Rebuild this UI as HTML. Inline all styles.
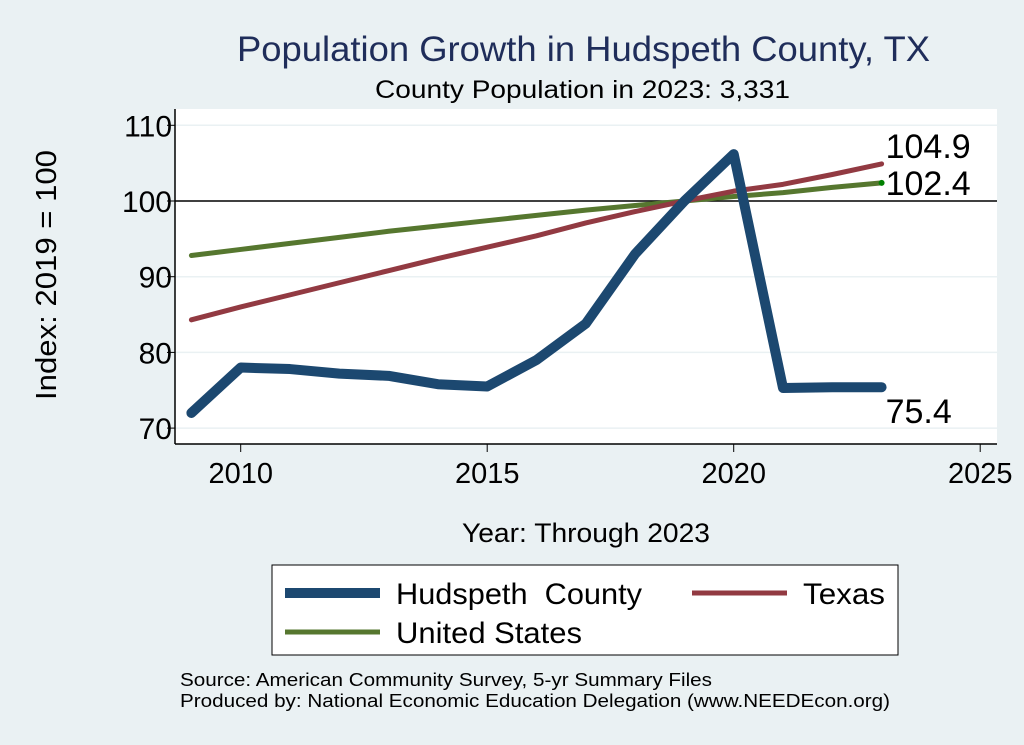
<!DOCTYPE html>
<html><head><meta charset="utf-8"><style>
body{margin:0;background:#eaf1f3;}
svg{display:block;font-family:"Liberation Sans",sans-serif;}
</style></head><body>
<svg width="1024" height="745">
<rect width="1024" height="745" fill="#eaf1f3"/>
<text x="237" y="61" font-size="35" textLength="693" lengthAdjust="spacingAndGlyphs" fill="#1f2d5a">Population Growth in Hudspeth County, TX</text>
<text x="375" y="98" font-size="25" textLength="415" lengthAdjust="spacingAndGlyphs" fill="#000">County Population in 2023: 3,331</text>
<rect x="175" y="109" width="822" height="335" fill="#fff"/>
<g id="grid"></g>
<g id="series"></g>
<g id="axes"></g>
<text transform="translate(56,400) rotate(-90)" font-size="29" textLength="250" lengthAdjust="spacingAndGlyphs">Index: 2019 = 100</text>
<text x="462" y="542" font-size="27" textLength="248" lengthAdjust="spacingAndGlyphs">Year: Through 2023</text>
<g>
<rect x="272" y="565" width="626" height="90" fill="#fff" stroke="#000" stroke-width="1"/>
<line x1="285" y1="593" x2="380" y2="593" stroke="#1c4870" stroke-width="10"/>
<text x="396" y="604" font-size="30" textLength="246" lengthAdjust="spacingAndGlyphs" style="white-space:pre">Hudspeth  County</text>
<line x1="692" y1="593" x2="787" y2="593" stroke="#923a42" stroke-width="5"/>
<text x="803" y="604" font-size="30" textLength="82" lengthAdjust="spacingAndGlyphs">Texas</text>
<line x1="285" y1="632" x2="380" y2="632" stroke="#56772f" stroke-width="5"/>
<text x="396" y="643" font-size="30" textLength="186" lengthAdjust="spacingAndGlyphs">United States</text>
</g>
<text x="180" y="686" font-size="18" textLength="532" lengthAdjust="spacingAndGlyphs">Source: American Community Survey, 5-yr Summary Files</text>
<text x="180" y="707" font-size="18" textLength="710" lengthAdjust="spacingAndGlyphs">Produced by: National Economic Education Delegation (www.NEEDEcon.org)</text>
</svg>
<script>
const years=[2009,2010,2011,2012,2013,2014,2015,2016,2017,2018,2019,2020,2021,2022,2023];
const hudspeth=[72.0,78.0,77.8,77.2,76.9,75.8,75.5,79.0,83.8,93.0,100,106.2,75.3,75.4,75.4];
const texas=[84.3,86.0,87.6,89.2,90.8,92.4,93.9,95.4,97.1,98.6,100,101.3,102.2,103.5,104.9];
const us=[92.8,93.6,94.4,95.2,96.0,96.7,97.4,98.1,98.8,99.4,100,100.6,101.1,101.8,102.4];
const xTicks=[2010,2015,2020,2025];
const yTicks=[70,80,90,100,110];
const NS='http://www.w3.org/2000/svg';
const X=v=>240.7+(v-2010)*49.3;
const Y=v=>201-(v-100)*7.57;
function mk(tag,attrs,parent){const e=document.createElementNS(NS,tag);for(const k in attrs)e.setAttribute(k,attrs[k]);document.getElementById(parent).appendChild(e);return e;}
yTicks.forEach(t=>{
 if(t!==100){const g=mk('line',{x1:175,x2:997,y1:Y(t),y2:Y(t),stroke:'#eaf1f3','stroke-width':1.5},'grid');
 
 }
 const tk=mk('line',{x1:167,x2:175,y1:Y(t),y2:Y(t),stroke:'#000'},'axes');
 
 
 const lb=mk('text',{x:172,y:Y(t)+11,'text-anchor':'end','font-size':30},'axes');lb.textContent=t;
 
 
});
const ref=mk('line',{x1:175,x2:997,y1:Y(100),y2:Y(100),stroke:'#000','stroke-width':1.5},'grid');


xTicks.forEach(t=>{
 const tk=mk('line',{x1:X(t),x2:X(t),y1:444,y2:452,stroke:'#000'},'axes');
 
 
 const lb=mk('text',{x:X(t),y:483,'text-anchor':'middle','font-size':29},'axes');lb.textContent=t;
 
 
});
const ax1=mk('line',{x1:175,x2:175,y1:109,y2:444,stroke:'#000','stroke-width':1.5},'axes');


const ax2=mk('line',{x1:175,x2:997,y1:444,y2:444,stroke:'#000','stroke-width':1.5},'axes');


function line(vals,color,w,name){
 const p=mk('polyline',{points:vals.map((v,i)=>X(years[i])+','+Y(v)).join(' '),fill:'none',stroke:color,'stroke-width':w,'stroke-linejoin':'round','stroke-linecap':'round'},'series');
 
 
}
line(us,'#56772f',5,'line-united-states');
line(texas,'#923a42',5,'line-texas');
line(hudspeth,'#1c4870',10,'line-hudspeth');
const dot=mk('circle',{cx:X(2023),cy:Y(us[us.length-1]),r:3,fill:'#008000'},'series');


const last=years.length-1;
[[texas[last],-6,'label-texas-end'],[us[last],12,'label-us-end'],[hudspeth[last],36,'label-hudspeth-end']].forEach(([v,dy,n])=>{
 const t=mk('text',{x:X(2023)+4,y:Y(v)+dy,'font-size':34},'series');t.textContent=v.toFixed(1);
 
 
});
</script>
</body></html>
